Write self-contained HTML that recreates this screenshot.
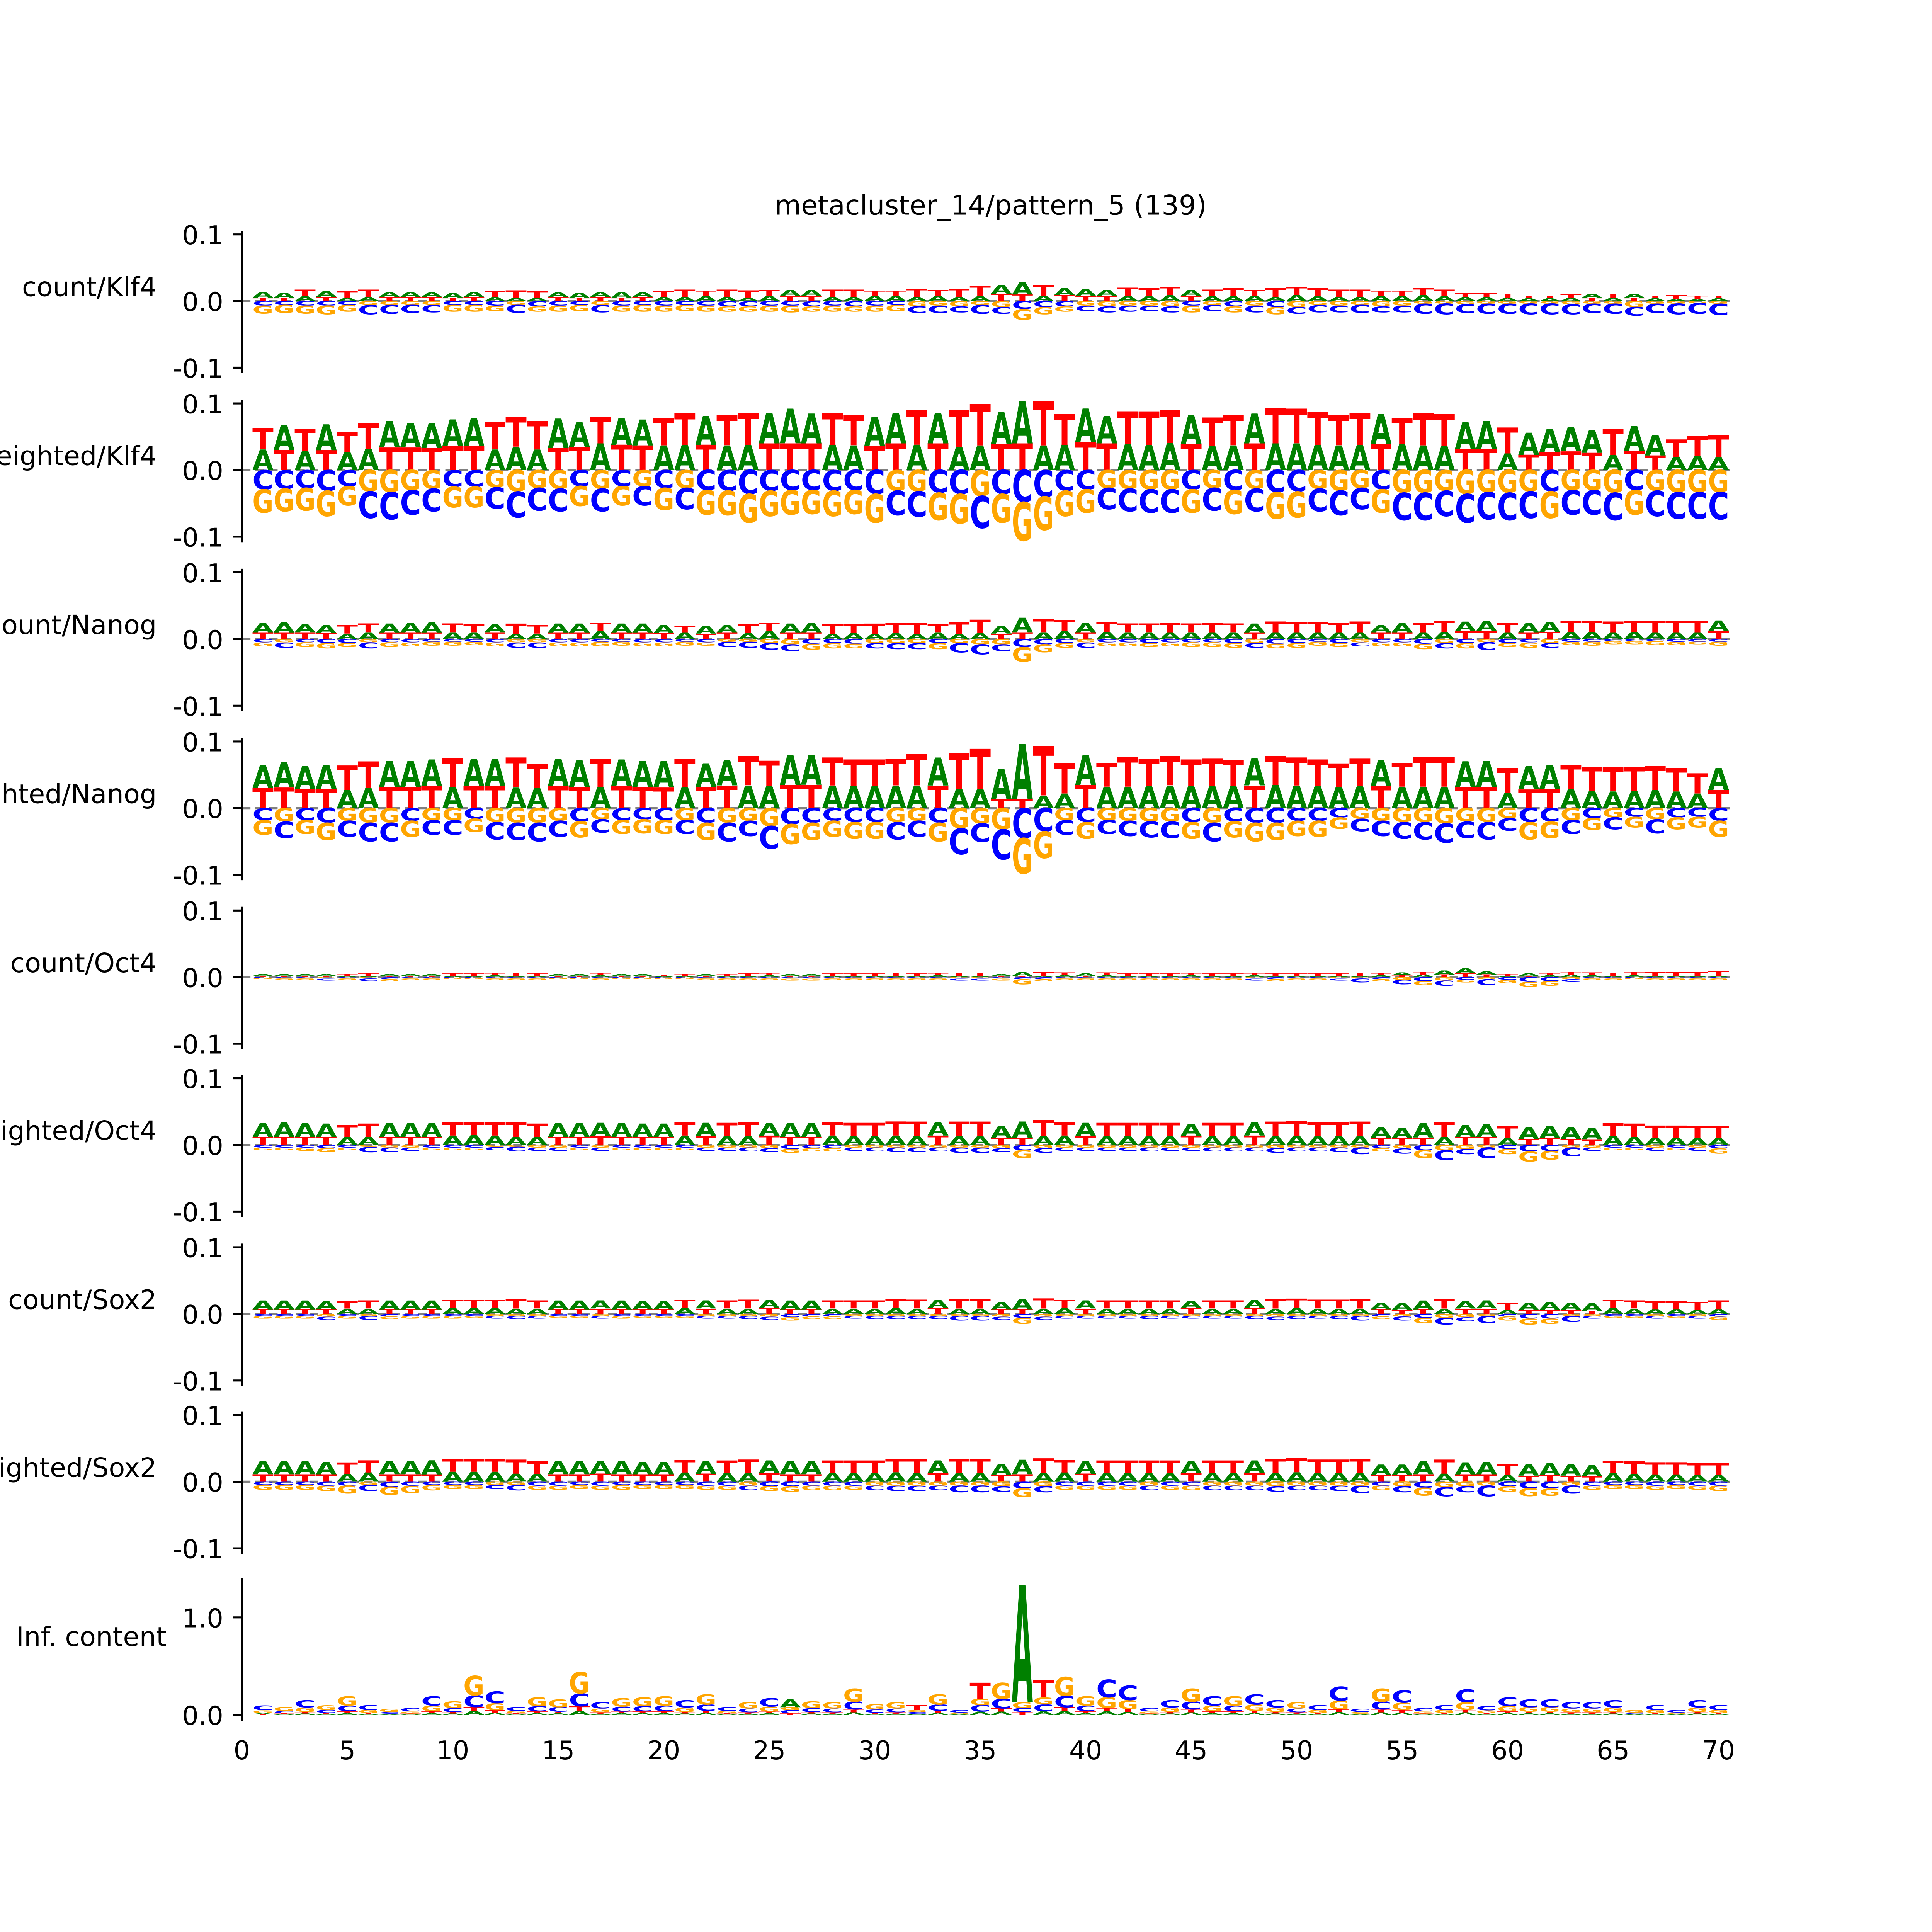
<!DOCTYPE html>
<html>
<head>
<meta charset="utf-8">
<style>
  html,body{margin:0;padding:0;background:#fff;width:100%;height:100%;overflow:hidden;}
  svg{display:block;width:100vw;height:100vh;}
  text{font-family:"DejaVu Sans","Liberation Sans",sans-serif;}
</style>
</head>
<body>
<svg id="chart" xmlns="http://www.w3.org/2000/svg" viewBox="0 0 1566 1566" preserveAspectRatio="none">
  <rect x="0" y="0" width="1566" height="1566" fill="#ffffff"/>
  <text x="803" y="174" font-size="22" text-anchor="middle" fill="#000">metacluster_14/pattern_5 (139)</text>
  <g id="plots"></g>
</svg>
<script>
// ---- data (values per position 1..70) ----
const positions = Array.from({length:70},(_,i)=>i+1);
const xTickLabels = ["0","5","10","15","20","25","30","35","40","45","50","55","60","65","70"];
const yTickLabels = ["0.1","0.0","-0.1"];
const icTickLabels = ["0.0","1.0"];
const trackNames = ["count/Klf4","weighted/Klf4","count/Nanog","weighted/Nanog","count/Oct4","weighted/Oct4","count/Sox2","weighted/Sox2"];

const cKlf4_A = [.009,.008,.007,.009,.005,.006,.008,.008,.007,.007,.008,.006,.005,.005,.007,.008,.008,.009,.007,.006,.006,.008,.006,.005,.008,.009,.009,.006,.006,.008,.008,.006,.008,.006,.007,.013,.018,.008,.010,.010,.009,.008,.007,.009,.009,.007,.007,.008,.006,.009,.007,.006,.006,.008,.008,.009,.007,.006,.006,.005,.004,.004,.005,.006,.005,.006,.004,.003,.003,.004];
const cKlf4_C = [-.007,-.006,-.007,-.007,-.006,-.014,-.013,-.012,-.011,-.006,-.006,-.007,-.012,-.008,-.007,-.006,-.011,-.007,-.006,-.007,-.006,-.007,-.008,-.008,-.007,-.007,-.008,-.007,-.008,-.007,-.006,-.010,-.011,-.009,-.013,-.010,-.012,-.009,-.008,-.008,-.009,-.009,-.008,-.009,-.007,-.009,-.008,-.010,-.009,-.010,-.011,-.010,-.012,-.009,-.010,-.015,-.016,-.013,-.015,-.015,-.016,-.016,-.015,-.014,-.015,-.013,-.014,-.016,-.016,-.017];
const cKlf4_G = [-.012,-.012,-.012,-.013,-.010,-.006,-.006,-.006,-.006,-.010,-.010,-.008,-.006,-.008,-.009,-.009,-.006,-.009,-.010,-.009,-.009,-.009,-.008,-.008,-.009,-.010,-.008,-.009,-.008,-.009,-.009,-.008,-.007,-.008,-.006,-.009,-.016,-.011,-.008,-.007,-.008,-.007,-.007,-.008,-.010,-.006,-.009,-.007,-.011,-.009,-.006,-.007,-.006,-.008,-.007,-.004,-.004,-.005,-.004,-.004,-.004,-.004,-.005,-.004,-.004,-.009,-.004,-.004,-.003,-.004];
const cKlf4_T = [.005,.005,.010,.006,.010,.011,.006,.006,.006,.005,.006,.009,.011,.010,.006,.005,.006,.005,.006,.009,.011,.008,.011,.011,.009,.008,.008,.011,.011,.008,.008,.012,.009,.012,.016,.011,.010,.016,.009,.008,.008,.012,.012,.012,.008,.010,.012,.009,.013,.012,.012,.011,.011,.008,.008,.010,.010,.006,.006,.006,.004,.004,.005,.005,.006,.005,.004,.006,.005,.004];

const wKlf4_A = [.031,.038,.029,.039,.027,.032,.040,.037,.037,.040,.042,.031,.035,.031,.044,.037,.040,.040,.039,.037,.038,.043,.037,.038,.046,.052,.045,.038,.037,.044,.046,.038,.046,.035,.037,.048,.063,.037,.038,.050,.041,.039,.038,.041,.043,.036,.037,.045,.040,.040,.038,.037,.038,.045,.039,.037,.036,.040,.042,.025,.033,.035,.037,.034,.023,.037,.031,.020,.021,.019];
const wKlf4_C = [-.029,-.028,-.027,-.031,-.024,-.040,-.041,-.037,-.034,-.025,-.025,-.032,-.039,-.034,-.034,-.024,-.034,-.024,-.029,-.027,-.032,-.030,-.031,-.036,-.031,-.030,-.030,-.031,-.030,-.036,-.037,-.038,-.034,-.036,-.048,-.036,-.048,-.040,-.031,-.029,-.032,-.034,-.035,-.035,-.029,-.034,-.030,-.034,-.033,-.032,-.034,-.037,-.032,-.029,-.041,-.041,-.038,-.043,-.041,-.041,-.040,-.032,-.037,-.037,-.041,-.030,-.038,-.040,-.040,-.041];
const wKlf4_G = [-.035,-.034,-.034,-.038,-.029,-.032,-.033,-.030,-.028,-.031,-.031,-.026,-.032,-.027,-.028,-.030,-.028,-.029,-.024,-.033,-.027,-.037,-.037,-.043,-.038,-.037,-.036,-.038,-.036,-.043,-.031,-.032,-.041,-.044,-.039,-.043,-.058,-.050,-.038,-.035,-.027,-.028,-.029,-.029,-.035,-.027,-.036,-.028,-.040,-.039,-.028,-.031,-.027,-.035,-.034,-.034,-.031,-.036,-.033,-.034,-.032,-.040,-.030,-.030,-.034,-.037,-.031,-.033,-.033,-.033];
const wKlf4_T = [.032,.030,.033,.030,.030,.039,.034,.034,.033,.036,.036,.041,.045,.043,.033,.035,.040,.038,.037,.041,.047,.038,.045,.048,.040,.040,.040,.047,.045,.036,.040,.052,.040,.055,.062,.039,.040,.066,.046,.042,.040,.049,.050,.049,.039,.043,.045,.040,.053,.052,.049,.045,.048,.039,.039,.048,.048,.032,.032,.039,.023,.027,.028,.026,.039,.029,.022,.026,.030,.033];

const cNanog_A = [.014,.015,.012,.012,.008,.010,.013,.014,.015,.010,.010,.012,.008,.008,.013,.013,.012,.013,.013,.012,.010,.012,.011,.009,.012,.013,.014,.008,.009,.008,.009,.008,.010,.008,.009,.012,.022,.010,.012,.014,.011,.010,.010,.010,.010,.010,.010,.013,.010,.010,.010,.010,.010,.011,.014,.010,.011,.014,.015,.010,.014,.015,.011,.011,.010,.011,.010,.010,.010,.016];
const cNanog_C = [-.005,-.008,-.005,-.006,-.006,-.009,-.005,-.005,-.004,-.004,-.004,-.005,-.008,-.008,-.005,-.005,-.004,-.004,-.005,-.005,-.004,-.005,-.008,-.009,-.010,-.010,-.007,-.006,-.007,-.008,-.009,-.009,-.006,-.014,-.015,-.010,-.012,-.008,-.006,-.008,-.005,-.005,-.006,-.005,-.005,-.005,-.006,-.007,-.007,-.006,-.004,-.006,-.006,-.005,-.005,-.007,-.008,-.006,-.012,-.006,-.005,-.007,-.004,-.004,-.003,-.003,-.003,-.004,-.004,-.004];
const cNanog_G = [-.006,-.005,-.007,-.008,-.006,-.005,-.007,-.006,-.006,-.006,-.005,-.006,-.005,-.005,-.006,-.006,-.007,-.006,-.006,-.006,-.006,-.005,-.004,-.004,-.006,-.008,-.009,-.008,-.007,-.006,-.006,-.006,-.009,-.006,-.008,-.008,-.022,-.012,-.007,-.005,-.006,-.006,-.006,-.006,-.007,-.007,-.007,-.006,-.007,-.007,-.006,-.006,-.005,-.006,-.006,-.008,-.006,-.008,-.005,-.006,-.008,-.006,-.005,-.006,-.005,-.005,-.006,-.005,-.004,-.006];
const cNanog_T = [.010,.010,.010,.009,.013,.013,.010,.010,.010,.013,.012,.010,.015,.013,.010,.010,.012,.010,.010,.009,.010,.008,.010,.014,.012,.010,.010,.014,.014,.015,.015,.016,.012,.017,.020,.008,.010,.020,.016,.010,.014,.013,.013,.014,.013,.014,.013,.010,.016,.015,.015,.014,.016,.010,.010,.014,.016,.012,.012,.014,.010,.011,.016,.016,.016,.016,.017,.017,.017,.012];

const wNanog_A = [.034,.038,.034,.036,.027,.030,.039,.039,.040,.032,.041,.041,.031,.030,.041,.040,.032,.040,.039,.040,.032,.035,.038,.034,.033,.045,.044,.034,.033,.033,.034,.034,.042,.029,.029,.046,.083,.019,.022,.045,.032,.032,.033,.034,.033,.033,.033,.041,.035,.034,.033,.032,.033,.039,.032,.032,.032,.038,.039,.023,.035,.036,.028,.026,.025,.026,.027,.025,.022,.033];
const wNanog_C = [-.018,-.025,-.018,-.022,-.024,-.028,-.028,-.019,-.022,-.022,-.016,-.026,-.026,-.028,-.024,-.020,-.020,-.018,-.017,-.018,-.021,-.022,-.028,-.023,-.034,-.024,-.022,-.019,-.021,-.021,-.026,-.024,-.022,-.039,-.028,-.045,-.045,-.035,-.022,-.021,-.021,-.023,-.024,-.025,-.021,-.028,-.020,-.022,-.022,-.019,-.019,-.014,-.019,-.023,-.025,-.026,-.029,-.025,-.026,-.019,-.021,-.020,-.021,-.015,-.018,-.013,-.021,-.014,-.013,-.019];
const wNanog_G = [-.022,-.020,-.021,-.026,-.019,-.022,-.022,-.024,-.018,-.018,-.020,-.021,-.022,-.022,-.019,-.024,-.017,-.021,-.021,-.021,-.018,-.026,-.022,-.019,-.027,-.030,-.026,-.024,-.025,-.025,-.021,-.019,-.028,-.030,-.023,-.032,-.053,-.040,-.018,-.025,-.018,-.019,-.020,-.020,-.025,-.022,-.024,-.028,-.026,-.023,-.024,-.017,-.016,-.019,-.021,-.021,-.023,-.020,-.021,-.015,-.026,-.025,-.018,-.018,-.014,-.016,-.017,-.018,-.016,-.024];
const wNanog_T = [.030,.031,.029,.029,.037,.040,.032,.032,.033,.043,.033,.033,.045,.036,.033,.032,.042,.033,.032,.031,.042,.032,.034,.044,.038,.035,.035,.042,.040,.040,.040,.047,.034,.054,.060,.013,.013,.074,.046,.035,.036,.045,.041,.044,.040,.042,.039,.034,.043,.042,.040,.035,.042,.033,.036,.044,.044,.032,.032,.037,.028,.029,.037,.036,.036,.036,.036,.035,.030,.027];

const cOct4_A = [.003,.003,.003,.003,.002,.002,.003,.003,.003,.002,.002,.003,.002,.002,.003,.003,.003,.003,.003,.002,.002,.003,.002,.002,.003,.003,.003,.002,.002,.002,.002,.002,.003,.002,.002,.003,.006,.002,.003,.004,.003,.002,.002,.002,.003,.002,.002,.003,.002,.002,.002,.002,.002,.003,.004,.004,.006,.007,.005,.002,.004,.003,.004,.003,.002,.003,.002,.002,.002,.002];
const cOct4_C = [-.001,-.002,-.002,-.003,-.002,-.004,-.003,-.002,-.002,-.001,-.001,-.002,-.002,-.002,-.001,-.001,-.002,-.001,-.001,-.001,-.001,-.002,-.002,-.002,-.002,-.002,-.002,-.002,-.002,-.002,-.002,-.002,-.002,-.003,-.003,-.002,-.003,-.003,-.002,-.002,-.002,-.002,-.002,-.002,-.002,-.002,-.002,-.003,-.003,-.002,-.002,-.003,-.006,-.003,-.007,-.006,-.008,-.004,-.009,-.004,-.007,-.006,-.004,-.002,-.002,-.001,-.002,-.002,-.002,-.002];
const cOct4_G = [-.002,-.002,-.002,-.002,-.002,-.002,-.003,-.002,-.002,-.002,-.002,-.002,-.002,-.002,-.002,-.002,-.002,-.002,-.002,-.002,-.002,-.002,-.002,-.002,-.002,-.003,-.003,-.002,-.002,-.002,-.002,-.002,-.002,-.002,-.002,-.003,-.008,-.003,-.002,-.002,-.002,-.002,-.002,-.002,-.002,-.002,-.002,-.002,-.003,-.002,-.002,-.002,-.002,-.003,-.004,-.006,-.005,-.004,-.003,-.005,-.008,-.007,-.003,-.002,-.002,-.002,-.002,-.002,-.002,-.002];
const cOct4_T = [.002,.002,.002,.002,.003,.004,.002,.002,.002,.004,.004,.003,.005,.004,.002,.002,.003,.002,.002,.002,.003,.002,.003,.004,.003,.002,.002,.004,.004,.004,.005,.004,.003,.005,.005,.002,.002,.006,.004,.002,.004,.004,.004,.004,.003,.004,.004,.003,.004,.004,.004,.004,.005,.003,.003,.004,.004,.006,.004,.003,.002,.003,.004,.004,.005,.005,.006,.006,.006,.007];

const wOct4_A = [.021,.022,.021,.020,.012,.012,.021,.021,.021,.014,.015,.014,.012,.012,.021,.021,.020,.021,.020,.020,.014,.020,.013,.013,.019,.021,.021,.014,.013,.013,.014,.013,.020,.013,.013,.018,.024,.013,.014,.020,.013,.013,.013,.013,.018,.013,.013,.020,.013,.014,.013,.013,.013,.016,.016,.022,.012,.018,.019,.010,.018,.019,.018,.018,.014,.012,.011,.011,.010,.010];
const wOct4_C = [-.004,-.004,-.004,-.005,-.004,-.008,-.007,-.005,-.004,-.004,-.004,-.005,-.007,-.005,-.005,-.004,-.005,-.004,-.004,-.004,-.004,-.005,-.005,-.006,-.006,-.006,-.005,-.005,-.005,-.006,-.007,-.007,-.006,-.008,-.008,-.006,-.008,-.007,-.005,-.005,-.005,-.005,-.006,-.005,-.005,-.006,-.006,-.006,-.007,-.006,-.006,-.007,-.010,-.005,-.008,-.008,-.015,-.008,-.016,-.006,-.010,-.009,-.013,-.005,-.004,-.004,-.005,-.004,-.005,-.005];
const wOct4_G = [-.004,-.004,-.005,-.006,-.004,-.003,-.004,-.004,-.004,-.004,-.004,-.003,-.003,-.004,-.004,-.004,-.004,-.004,-.004,-.004,-.004,-.004,-.004,-.004,-.005,-.006,-.005,-.005,-.004,-.004,-.004,-.004,-.004,-.004,-.004,-.005,-.012,-.005,-.004,-.004,-.004,-.004,-.004,-.004,-.004,-.004,-.004,-.004,-.005,-.004,-.004,-.004,-.004,-.005,-.005,-.012,-.008,-.006,-.004,-.008,-.015,-.013,-.004,-.004,-.004,-.004,-.004,-.004,-.004,-.008];
const wOct4_T = [.012,.012,.012,.012,.018,.020,.012,.012,.012,.020,.019,.020,.022,.020,.012,.012,.013,.012,.012,.012,.020,.013,.020,.021,.014,.012,.012,.020,.020,.020,.021,.022,.014,.022,.022,.011,.011,.024,.020,.013,.020,.020,.020,.020,.014,.020,.020,.014,.022,.022,.021,.021,.022,.011,.010,.011,.022,.012,.012,.018,.009,.010,.009,.008,.019,.020,.018,.018,.019,.019];

const cSox2_A = [.013,.013,.013,.012,.008,.008,.013,.013,.013,.009,.009,.009,.008,.008,.013,.013,.012,.013,.012,.012,.009,.012,.008,.008,.012,.013,.013,.008,.008,.008,.009,.008,.012,.008,.008,.011,.016,.008,.009,.012,.008,.008,.008,.008,.011,.008,.008,.012,.008,.009,.008,.008,.008,.010,.010,.013,.008,.011,.012,.006,.011,.012,.011,.011,.009,.008,.007,.007,.006,.007];
const cSox2_C = [-.003,-.003,-.003,-.005,-.003,-.006,-.004,-.003,-.003,-.003,-.003,-.004,-.005,-.004,-.003,-.003,-.004,-.003,-.003,-.003,-.003,-.004,-.004,-.005,-.005,-.005,-.004,-.004,-.004,-.005,-.005,-.005,-.005,-.007,-.007,-.005,-.006,-.005,-.004,-.004,-.004,-.004,-.005,-.004,-.004,-.004,-.004,-.005,-.005,-.005,-.004,-.005,-.007,-.004,-.006,-.006,-.010,-.006,-.011,-.004,-.007,-.007,-.009,-.004,-.003,-.003,-.004,-.003,-.004,-.004];
const cSox2_G = [-.004,-.004,-.004,-.004,-.004,-.003,-.004,-.004,-.004,-.004,-.003,-.003,-.003,-.003,-.003,-.003,-.003,-.004,-.003,-.003,-.003,-.003,-.003,-.003,-.004,-.005,-.004,-.004,-.003,-.003,-.003,-.003,-.003,-.003,-.003,-.004,-.009,-.004,-.003,-.003,-.003,-.003,-.003,-.003,-.003,-.003,-.003,-.003,-.004,-.003,-.003,-.003,-.003,-.004,-.004,-.008,-.006,-.005,-.003,-.006,-.009,-.008,-.003,-.003,-.003,-.003,-.003,-.003,-.003,-.005];
const cSox2_T = [.007,.007,.007,.007,.011,.012,.007,.007,.007,.012,.012,.012,.014,.012,.007,.007,.008,.007,.007,.007,.012,.008,.012,.013,.009,.007,.007,.012,.012,.012,.013,.013,.009,.014,.014,.007,.007,.015,.012,.008,.012,.012,.012,.012,.009,.012,.012,.009,.014,.014,.013,.013,.014,.007,.006,.007,.014,.008,.008,.011,.006,.006,.006,.005,.012,.012,.012,.012,.012,.013];

const wSox2_A = [.020,.020,.020,.019,.012,.014,.020,.020,.021,.015,.015,.015,.012,.012,.020,.020,.019,.020,.019,.019,.014,.019,.013,.013,.019,.020,.020,.013,.013,.013,.014,.013,.019,.013,.013,.017,.022,.013,.014,.019,.013,.013,.013,.013,.018,.013,.013,.019,.013,.014,.013,.013,.013,.016,.016,.020,.012,.018,.019,.010,.017,.018,.017,.017,.013,.012,.011,.011,.010,.010];
const wSox2_C = [-.005,-.005,-.005,-.006,-.006,-.009,-.008,-.006,-.005,-.005,-.005,-.006,-.008,-.006,-.006,-.005,-.006,-.005,-.005,-.005,-.005,-.006,-.006,-.007,-.007,-.007,-.006,-.006,-.006,-.007,-.008,-.008,-.007,-.010,-.010,-.008,-.010,-.009,-.006,-.006,-.006,-.006,-.007,-.006,-.006,-.007,-.007,-.007,-.008,-.007,-.007,-.008,-.011,-.006,-.009,-.009,-.014,-.009,-.016,-.007,-.010,-.010,-.012,-.006,-.005,-.005,-.006,-.005,-.006,-.006];
const wSox2_G = [-.007,-.007,-.007,-.008,-.012,-.005,-.012,-.011,-.008,-.006,-.006,-.005,-.005,-.006,-.006,-.006,-.006,-.007,-.006,-.006,-.006,-.006,-.006,-.006,-.007,-.008,-.007,-.007,-.006,-.006,-.006,-.006,-.006,-.006,-.006,-.007,-.013,-.007,-.006,-.006,-.006,-.006,-.006,-.006,-.007,-.006,-.006,-.006,-.007,-.006,-.006,-.006,-.006,-.007,-.007,-.012,-.008,-.007,-.006,-.008,-.012,-.011,-.006,-.006,-.006,-.006,-.006,-.006,-.006,-.008];
const wSox2_T = [.011,.011,.011,.011,.017,.018,.011,.011,.011,.019,.019,.019,.021,.019,.011,.011,.012,.011,.011,.011,.019,.012,.019,.020,.013,.011,.011,.019,.019,.019,.020,.021,.013,.021,.021,.010,.011,.022,.019,.012,.019,.019,.019,.019,.013,.019,.019,.013,.021,.021,.020,.020,.021,.010,.010,.011,.021,.011,.011,.017,.009,.010,.009,.008,.018,.019,.018,.018,.018,.018];

const ic_A = [.010,.008,.015,.010,.019,.010,.006,.007,.019,.014,.040,.024,.008,.018,.016,.044,.013,.017,.018,.019,.015,.021,.008,.013,.017,.080,.014,.013,.027,.011,.013,.010,.021,.005,.033,.033,1.20,.036,.039,.019,.036,.030,.007,.015,.027,.019,.019,.021,.015,.013,.010,.029,.006,.027,.025,.007,.010,.026,.009,.018,.016,.016,.013,.013,.015,.005,.010,.005,.015,.010];
const ic_C = [.048,.024,.075,.030,.057,.050,.018,.035,.095,.042,.120,.120,.040,.054,.048,.132,.065,.051,.054,.057,.075,.063,.040,.039,.085,.032,.042,.039,.081,.033,.039,.020,.063,.025,.066,.099,.040,.072,.117,.057,.180,.150,.035,.075,.081,.095,.057,.105,.075,.039,.050,.145,.030,.081,.125,.035,.050,.130,.045,.090,.080,.080,.065,.065,.075,.015,.050,.025,.075,.050];
const ic_G = [.029,.040,.045,.050,.095,.030,.030,.021,.057,.070,.200,.072,.024,.090,.080,.220,.039,.085,.090,.095,.045,.105,.024,.065,.051,.032,.070,.065,.135,.055,.065,.020,.105,.015,.066,.165,.060,.072,.195,.095,.108,.090,.021,.045,.135,.057,.095,.063,.045,.065,.030,.087,.018,.135,.075,.021,.030,.078,.027,.054,.048,.048,.039,.039,.045,.025,.030,.015,.045,.030];
const ic_T = [.009,.008,.015,.010,.019,.010,.006,.007,.019,.014,.040,.024,.008,.018,.016,.044,.013,.017,.018,.019,.015,.021,.008,.013,.017,.016,.014,.013,.027,.011,.013,.050,.021,.005,.165,.033,.030,.180,.039,.019,.036,.030,.007,.015,.027,.019,.019,.021,.015,.013,.010,.029,.006,.027,.025,.007,.010,.026,.009,.018,.016,.016,.013,.013,.015,.005,.010,.005,.015,.010];

const tracks = [
  {A:cKlf4_A,C:cKlf4_C,G:cKlf4_G,T:cKlf4_T},
  {A:wKlf4_A,C:wKlf4_C,G:wKlf4_G,T:wKlf4_T},
  {A:cNanog_A,C:cNanog_C,G:cNanog_G,T:cNanog_T},
  {A:wNanog_A,C:wNanog_C,G:wNanog_G,T:wNanog_T},
  {A:cOct4_A,C:cOct4_C,G:cOct4_G,T:cOct4_T},
  {A:wOct4_A,C:wOct4_C,G:wOct4_G,T:wOct4_T},
  {A:cSox2_A,C:cSox2_C,G:cSox2_G,T:cSox2_T},
  {A:wSox2_A,C:wSox2_C,G:wSox2_G,T:wSox2_T}
];
const icTrack = {A:ic_A,C:ic_C,G:ic_G,T:ic_T};

// ---- layout ----
const NS = "http://www.w3.org/2000/svg";
const X0 = 196, X70 = 1393;
function xs(v){ return X0 + (X70 - X0) * v / 70; }
const panelZero = [244,381,518,655,792,928,1065,1201];
const PX_PER_UNIT = 540;
const IC_ZERO = 1390, IC_PX = 79;
const COLORS = {A:"#008000",C:"#0000ff",G:"#ffa500",T:"#ff0000"};
const ADV = {A:77.4,C:73.4,G:82.1,T:68.2};
const CAP = 72.9;
const root = document.getElementById("plots");

function mk(tag, attrs, parent){
  const el = document.createElementNS(NS, tag);
  for (const k in attrs) el.setAttribute(k, attrs[k]);
  (parent||root).appendChild(el);
  return el;
}

function drawLetter(g, ch, pos, yBottom, h){
  if (h <= 0.05) return;
  const x0 = xs(pos - 0.5);
  const w = xs(pos + 0.5) - x0;
  const sx = w / ADV[ch];
  const sy = h / CAP;
  const t = mk("text", {x:0, y:0, "font-size":100, "font-weight":"bold", fill:COLORS[ch],
    transform:`translate(${x0.toFixed(2)},${yBottom.toFixed(2)}) scale(${sx.toFixed(4)},${sy.toFixed(4)})`}, g);
  
  
  t.textContent = ch;
}

function drawLogo(g, track, zero, pxPerUnit){
  positions.forEach((p, i) => {
    const letters = ["A","C","G","T"].map(ch => ({ch, v: track[ch][i]}));
    const pos = letters.filter(l => l.v > 0).sort((a,b) => a.v - b.v);
    const neg = letters.filter(l => l.v < 0).sort((a,b) => b.v - a.v);
    let y = zero;
    pos.forEach(l => { const h = l.v * pxPerUnit; drawLetter(g, l.ch, p, y, h); y -= h; });
    y = zero;
    neg.forEach(l => {
      const h = -l.v * pxPerUnit;
      drawLetter(g, l.ch, p, y + h, h); y += h;
    });
  });
}

function yAxis(g, zero, spineTop, spineBot, ticks, pxPerUnit, tickVals){
  const sp = mk("line", {x1:X0, x2:X0, y1:spineTop, y2:spineBot, stroke:"#000", "stroke-width":1.6}, g);
  
  
  ticks.forEach((lab, k) => {
    const y = zero - tickVals[k] * pxPerUnit;
    const tk = mk("line", {x1:X0-7, x2:X0, y1:y, y2:y, stroke:"#000", "stroke-width":1.6}, g);
    
    
    const tl = mk("text", {x:X0-15, y:y+8, "font-size":21, "text-anchor":"end", fill:"#000"}, g);
    
    
    tl.textContent = lab;
  });
}

trackNames.forEach((name, k) => {
  const zero = panelZero[k];
  const g = mk("g", {});
  
  
  const zl = mk("line", {x1:X0, x2:1403, y1:zero, y2:zero, stroke:"#808080", "stroke-width":1.8, "stroke-dasharray":"7,4"}, g);
  
  
  drawLogo(g, tracks[k], zero, PX_PER_UNIT);
  yAxis(g, zero, zero - 57, zero + 58.5, yTickLabels, PX_PER_UNIT, [0.1, 0, -0.1]);
  const lab = mk("text", {x:127, y:zero - 4, "font-size":21.5, "text-anchor":"end", fill:"#000"}, g);
  
  
  lab.textContent = name;
});

// information content panel
const gic = mk("g", {});


drawLogo(gic, icTrack, IC_ZERO, IC_PX);
yAxis(gic, IC_ZERO, 1279, 1395, icTickLabels, IC_PX, [0, 1]);
const icLab = mk("text", {x:135, y:1334, "font-size":21.5, "text-anchor":"end", fill:"#000"}, gic);


icLab.textContent = "Inf. content";

xTickLabels.forEach((lab) => {
  const v = parseFloat(lab);
  const t = mk("text", {x:xs(v), y:1426, "font-size":21, "text-anchor":"middle", fill:"#000"}, gic);
  
  
  t.textContent = lab;
});
</script>
</body>
</html>
